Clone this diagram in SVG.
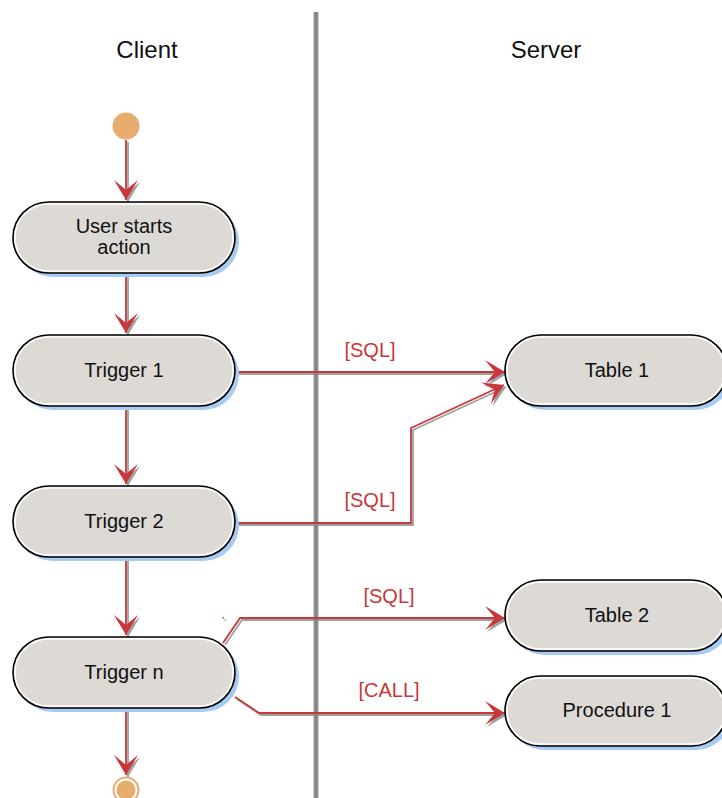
<svg xmlns="http://www.w3.org/2000/svg" width="722" height="798" viewBox="0 0 722 798">
<defs>
<style>
.shadow{fill:#a8cbf3;stroke:none}
.pill{fill:#dddad5;stroke:#000;stroke-width:1.6}
.inner{fill:none;stroke:#fff;stroke-width:1.4}
.t{font-family:"Liberation Sans",Arial,sans-serif;font-size:20px;fill:#111;text-anchor:middle}
.h{font-family:"Liberation Sans",Arial,sans-serif;font-size:24px;fill:#111;text-anchor:middle}
.lbl{font-family:"Liberation Sans",Arial,sans-serif;font-size:20px;fill:#c8373a;text-anchor:middle}
.c{fill:none;stroke:#c8373a;stroke-width:1.8;marker-end:url(#arr)}
</style>
<marker id="arr" markerUnits="userSpaceOnUse" viewBox="-21 -13 22 26" markerWidth="22" markerHeight="26" refX="0" refY="0" orient="auto">
<path d="M0,0 L-20,-12 L-10,0 L-20,12 Z" fill="#c8373a"/>
</marker>
<filter id="sh" x="-10%" y="-10%" width="130%" height="130%">
<feDropShadow dx="2" dy="2" stdDeviation="0.6" flood-color="#888" flood-opacity="0.8"/>
</filter>
</defs>
<rect width="722" height="798" fill="#fff"/>

<g id="lanes">
<rect x="313.5" y="12" width="5" height="786" fill="#a0a0a0"/>
<rect x="314.5" y="12" width="3" height="786" fill="#858585"/>
<text class="h" x="147" y="58">Client</text>
<text class="h" x="546" y="58">Server</text>
</g>

<g id="connectors" filter="url(#sh)">
<path class="c" d="M126,140 L126,200"/>
<path class="c" d="M126,274 L126,333"/>
<path class="c" d="M126,407 L126,484"/>
<path class="c" d="M126,558 L126,635"/>
<path class="c" d="M126,709 L126,775"/>
<path class="c" d="M237,372 L505,372"/>
<path class="c" d="M237,523 L411,523 L411,428 L504,385"/>
<path class="c" d="M223,643 L240,618 L505,618"/>
<path class="c" d="M235,697 L259,713 L505,713"/>
<rect x="222.5" y="617" width="1.5" height="1.5" fill="#c8373a"/>
</g>

<g id="connector-labels">
<text class="lbl" x="370" y="357">[SQL]</text>
<text class="lbl" x="370" y="507">[SQL]</text>
<text class="lbl" x="389" y="603">[SQL]</text>
<text class="lbl" x="389" y="697">[CALL]</text>
</g>

<g id="start">
<circle cx="126" cy="126" r="13.5" fill="#e8ac6e"/>
</g>

<g id="user-starts-action">
<rect class="shadow" x="17" y="206" width="222" height="71" rx="35.5"/>
<rect class="pill" x="13" y="202" width="222" height="71" rx="35.5"/>
<rect class="inner" x="15" y="204" width="218" height="67" rx="33.5"/>
<text class="t" x="124" y="233">User starts</text>
<text class="t" x="124" y="254">action</text>
</g>

<g id="trigger-1">
<rect class="shadow" x="17" y="339" width="222" height="71" rx="35.5"/>
<rect class="pill" x="13" y="335" width="222" height="71" rx="35.5"/>
<rect class="inner" x="15" y="337" width="218" height="67" rx="33.5"/>
<text class="t" x="124" y="377">Trigger 1</text>
</g>

<g id="trigger-2">
<rect class="shadow" x="17" y="490" width="222" height="71" rx="35.5"/>
<rect class="pill" x="13" y="486" width="222" height="71" rx="35.5"/>
<rect class="inner" x="15" y="488" width="218" height="67" rx="33.5"/>
<text class="t" x="124" y="528">Trigger 2</text>
</g>

<g id="trigger-n">
<rect class="shadow" x="17" y="641" width="222" height="71" rx="35.5"/>
<rect class="pill" x="13" y="637" width="222" height="71" rx="35.5"/>
<rect class="inner" x="15" y="639" width="218" height="67" rx="33.5"/>
<text class="t" x="124" y="679">Trigger n</text>
</g>

<g id="table-1">
<rect class="shadow" x="509" y="339" width="222" height="71" rx="35.5"/>
<rect class="pill" x="505" y="335" width="222" height="71" rx="35.5"/>
<rect class="inner" x="507" y="337" width="218" height="67" rx="33.5"/>
<text class="t" x="617" y="377">Table 1</text>
</g>

<g id="table-2">
<rect class="shadow" x="509" y="584" width="222" height="71" rx="35.5"/>
<rect class="pill" x="505" y="580" width="222" height="71" rx="35.5"/>
<rect class="inner" x="507" y="582" width="218" height="67" rx="33.5"/>
<text class="t" x="617" y="622">Table 2</text>
</g>

<g id="procedure-1">
<rect class="shadow" x="509" y="680" width="222" height="70" rx="35"/>
<rect class="pill" x="505" y="676" width="222" height="70" rx="35"/>
<rect class="inner" x="507" y="678" width="218" height="66" rx="33"/>
<text class="t" x="617" y="717">Procedure 1</text>
</g>

<g id="end">
<circle cx="126" cy="790" r="12.5" fill="none" stroke="#e8ac6e" stroke-width="2"/>
<circle cx="126" cy="790" r="9.5" fill="#e8ac6e"/>
</g>
</svg>
